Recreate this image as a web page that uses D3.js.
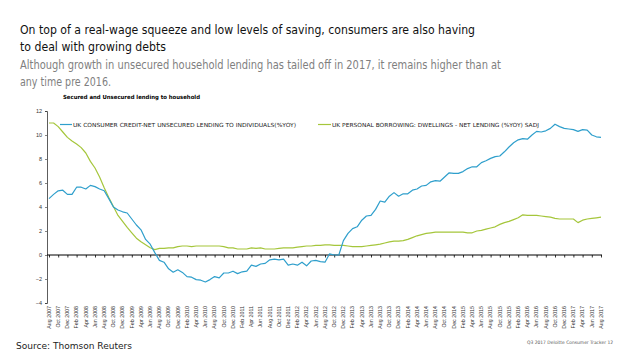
<!DOCTYPE html>
<html><head><meta charset="utf-8">
<script src="https://cdn.jsdelivr.net/npm/d3@7"></script>
<style>body{margin:0;background:#fff}svg{display:block}</style>
</head><body><svg id="c" width="638" height="359"></svg>
<script>
const months = ["Jan","Feb","Mar","Apr","May","Jun","Jul","Aug","Sep","Oct","Nov","Dec"];
// monthly categories Aug 2007 .. Aug 2017
const categories = d3.range(121).map(i => { const m = (7 + i) % 12, y = 2007 + Math.floor((7 + i) / 12); return months[m] + " " + y; });
const unsecured = [4.7,5.05,5.35,5.4,5.05,5.05,5.65,5.65,5.5,5.8,5.7,5.5,5.35,4.7,4.0,3.75,3.6,3.5,3.0,2.5,2.1,1.3,0.9,0.2,-0.45,-0.6,-1.15,-1.43,-1.23,-1.45,-1.8,-1.85,-2.05,-2.1,-2.25,-2.05,-1.8,-1.9,-1.5,-1.5,-1.35,-1.55,-1.4,-1.35,-0.85,-0.95,-0.75,-0.7,-0.4,-0.35,-0.4,-0.35,-0.85,-0.75,-0.85,-0.6,-0.9,-0.5,-0.45,-0.55,-0.6,0.1,0.0,0.0,1.2,1.8,2.2,2.35,2.9,3.25,3.3,3.8,4.5,4.4,4.9,5.2,4.9,5.1,5.1,5.4,5.5,5.75,5.8,6.1,6.2,6.15,6.5,6.85,6.8,6.8,6.95,7.2,7.35,7.35,7.7,7.85,8.05,8.2,8.25,8.6,9.0,9.35,9.6,9.7,9.65,10.0,10.3,10.25,10.35,10.55,10.9,10.7,10.55,10.5,10.45,10.3,10.45,10.4,10.0,9.85,9.8];
const secured = [11.0,11.0,10.7,10.25,9.8,9.5,9.25,8.95,8.5,7.8,7.25,6.5,5.6,4.8,4.05,3.3,2.8,2.3,1.85,1.4,1.1,0.85,0.6,0.45,0.55,0.55,0.6,0.6,0.7,0.75,0.75,0.7,0.75,0.75,0.75,0.75,0.75,0.75,0.7,0.6,0.6,0.5,0.5,0.5,0.6,0.55,0.6,0.5,0.5,0.5,0.55,0.6,0.6,0.6,0.65,0.7,0.75,0.75,0.8,0.8,0.85,0.85,0.8,0.8,0.8,0.75,0.7,0.7,0.7,0.75,0.8,0.85,0.9,1.0,1.1,1.15,1.15,1.2,1.3,1.45,1.6,1.7,1.8,1.85,1.9,1.9,1.9,1.9,1.9,1.9,1.9,1.85,1.85,2.0,2.05,2.15,2.25,2.35,2.55,2.7,2.8,2.95,3.1,3.35,3.3,3.3,3.3,3.25,3.2,3.15,3.05,3.0,3.0,3.0,3.0,2.7,2.9,3.0,3.05,3.1,3.15];
const yTicks = [-4,-2,0,2,4,6,8,10,12];
const xTickLabels = categories.filter((d, i) => i % 2 === 0);
const seriesNames = ["UK CONSUMER CREDIT-NET UNSECURED LENDING TO INDIVIDUALS(%YOY)", "UK PERSONAL BORROWING: DWELLINGS - NET LENDING (%YOY) SADJ"];
const colors = ["#2f9fcc", "#a5c63b"];

const svg = d3.select("#c");
const font = "'DejaVu Sans', Verdana, sans-serif";

// headings
function fitText(x, y, txt, size, fill, w, weight) {
  const t = svg.append("text").attr("x", x).attr("y", y).text(txt)
    .attr("font-family", font).attr("font-size", size).attr("fill", fill);
  if (weight) t.attr("font-weight", weight);
  if (w) t.attr("textLength", w).attr("lengthAdjust", "spacingAndGlyphs");
  return t;
}
fitText(20, 34, "On top of a real-wage squeeze and low levels of saving, consumers are also having", 12.5, "#111", 455);
fitText(20, 51, "to deal with growing debts", 12.5, "#111", 146);
fitText(20, 69, "Although growth in unsecured household lending has tailed off in 2017, it remains higher than at", 12.5, "#7f7f7f", 481);
fitText(20, 86, "any time pre 2016.", 12.5, "#7f7f7f", 91);
fitText(63, 99, "Secured and Unsecured lending to household", 5.6, "#000", 137, "bold");

// scales
const x = d3.scalePoint().domain(categories).range([49, 601]);
const y = d3.scaleLinear().domain([-4, 12]).range([303, 111]);

// y axis
const ya = svg.append("g").attr("transform", "translate(47,0)")
  .call(d3.axisLeft(y).tickValues(yTicks).tickSize(2).tickPadding(3));
ya.select(".domain").attr("stroke", "#333").attr("stroke-width", 0.8);
ya.selectAll("line").attr("stroke", "#333").attr("stroke-width", 0.6);
ya.selectAll("text").attr("font-family", "'Liberation Sans', Arial, sans-serif").attr("font-size", 5.5).attr("fill", "#333");

// x axis at zero
const xa = svg.append("g").attr("transform", `translate(0,${y(0)})`)
  .call(d3.axisBottom(x).tickValues(xTickLabels).tickSize(2.5).tickSizeOuter(0).tickFormat(""));
xa.select(".domain").attr("stroke", "#000").attr("stroke-width", 1).attr("d", `M47,0H602`);
xa.selectAll("line").attr("stroke", "#000").attr("stroke-width", 0.8);

// rotated x labels at the bottom
svg.append("g").selectAll("text").data(xTickLabels).join("text")
  .attr("transform", d => `translate(${x(d) + 1.8},306) rotate(-90)`)
  .attr("text-anchor", "end")
  .attr("font-family", "'Liberation Sans', Arial, sans-serif").attr("font-size", 5.3).attr("fill", "#333")
  .text(d => d);

// lines
const line = d3.line().x((d, i) => x(categories[i])).y(d => y(d));
[secured, unsecured].forEach((s, k) => {
  svg.append("path").datum(s).attr("d", line).attr("fill", "none")
    .attr("stroke", k === 0 ? colors[1] : colors[0]).attr("stroke-width", 1.2).attr("stroke-linejoin", "round");
});

// legend
const leg = [{x1: 60, x2: 72, tx: 73, w: 223}, {x1: 318, x2: 331, tx: 332, w: 207}];
leg.forEach((l, k) => {
  svg.append("line").attr("x1", l.x1).attr("x2", l.x2).attr("y1", 124.5).attr("y2", 124.5)
    .attr("stroke", colors[k]).attr("stroke-width", 1.2);
  fitText(l.tx, 126.5, seriesNames[k], 5.6, "#222", l.w);
});

// footer
fitText(16, 349, "Source: Thomson Reuters", 9.5, "#222", 116);
fitText(527, 344, "Q3 2017 Deloitte Consumer Tracker 12", 4.6, "#555", 86);
</script></body></html>
